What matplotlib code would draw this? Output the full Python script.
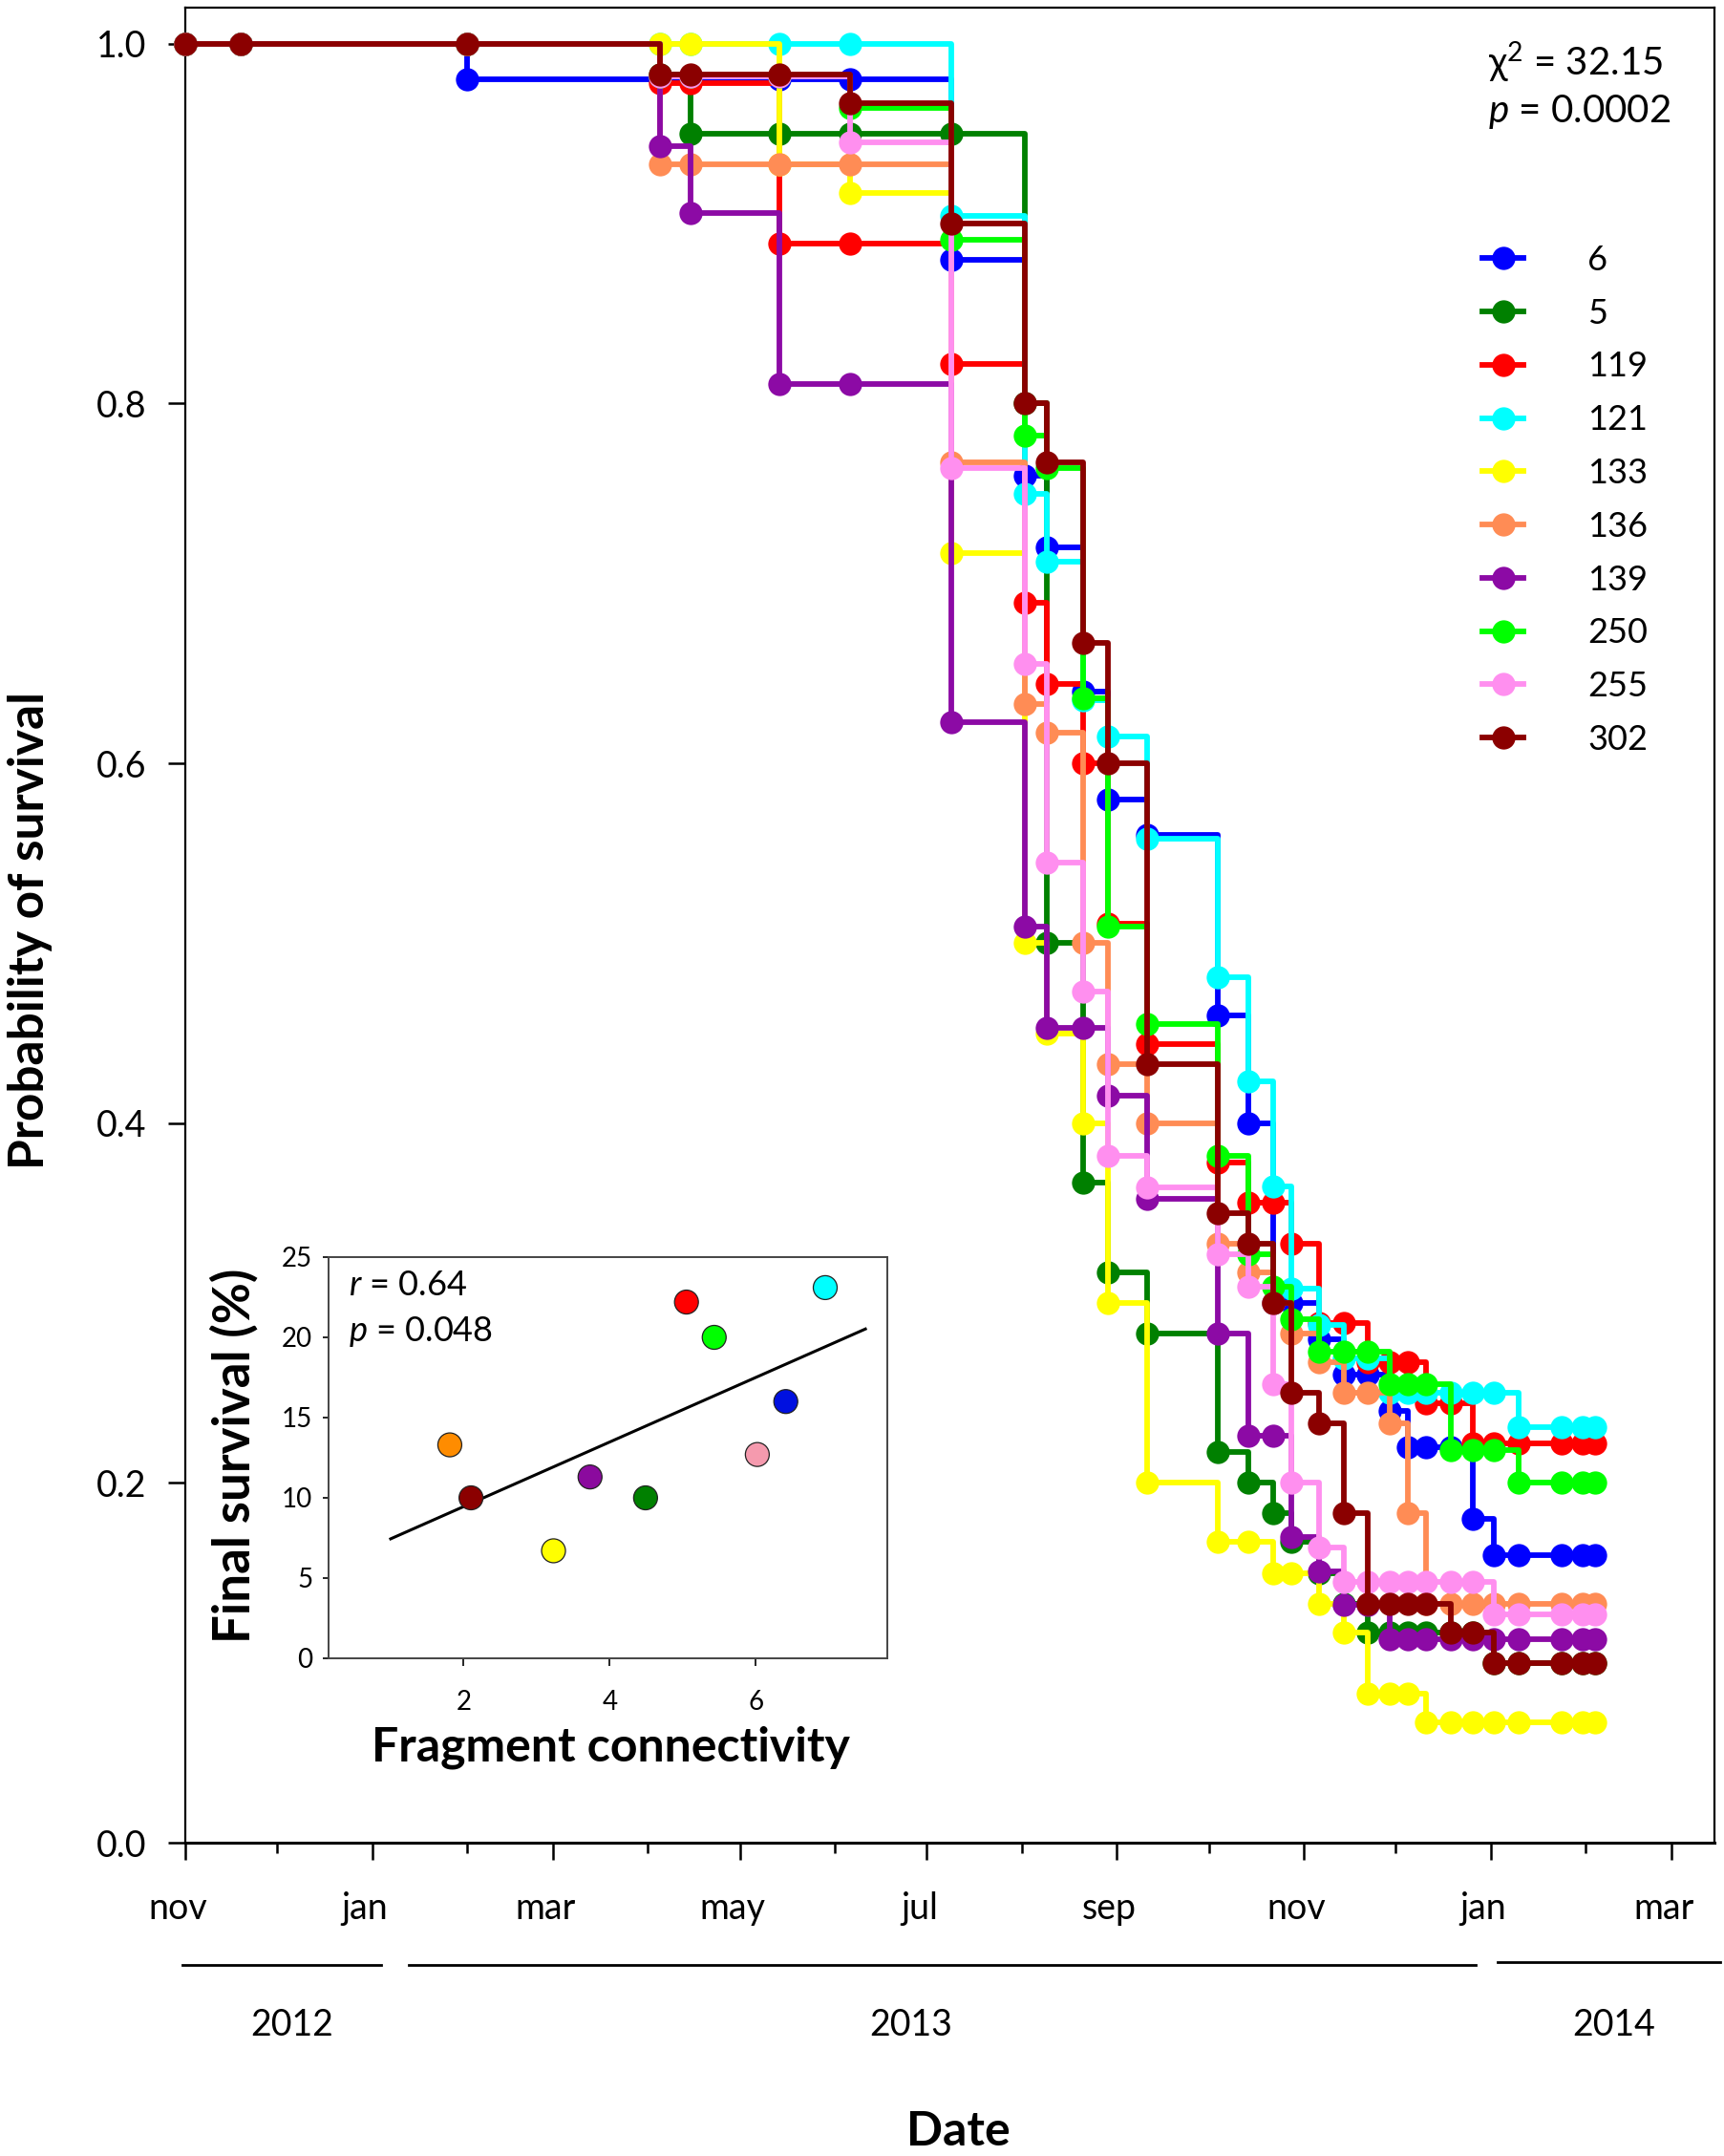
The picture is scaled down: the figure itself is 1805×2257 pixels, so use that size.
import numpy as np
import matplotlib
matplotlib.use('Agg')
import matplotlib.pyplot as plt
from matplotlib.ticker import FormatStrFormatter
from matplotlib.transforms import ScaledTranslation

plt.rcParams['font.family'] = ['Lato', 'DejaVu Sans']
plt.rcParams['mathtext.fontset'] = 'custom'
plt.rcParams['mathtext.rm'] = 'Lato'
plt.rcParams['mathtext.it'] = 'Lato:italic'

# sampling dates (shared by all fragments)
sample_dates = np.array([
    '2012-11-01', '2012-11-19', '2013-02-01', '2013-04-05', '2013-04-15',
    '2013-05-14', '2013-06-06', '2013-07-09', '2013-08-02', '2013-08-09',
    '2013-08-21', '2013-08-29', '2013-09-11', '2013-10-04', '2013-10-14',
    '2013-10-22', '2013-10-28', '2013-11-06', '2013-11-14', '2013-11-22',
    '2013-11-29', '2013-12-05', '2013-12-11', '2013-12-19', '2013-12-26',
    '2014-01-02', '2014-01-10', '2014-01-24', '2014-01-31', '2014-02-04'],
    dtype='datetime64[D]')

fragments = ['6', '5', '119', '121', '133', '136', '139', '250', '255', '302']
colors = ['#0000FF', '#008000', '#FF0000', '#00FFFF', '#FFFF00',
          '#FF8C55', '#8C0AA5', '#00FF00', '#FF8FEF', '#8B0000']

surv_6 = [1, 1, .98, .98, .98, .98, .98, .88, .76, .72, .64, .58, .56, .46, .40,
          .30, .30, .28, .26, .26, .24, .22, .22, .22, .18, .16, .16, .16, .16, .16]
surv_5 = [1, 1, 1, .983, .95, .95, .95, .95, .80, .50, .367, .317, .283, .217, .20,
          .183, .167, .15, .133, .117, .117, .117, .117, .117, .117, .10, .10, .10, .10, .10]
surv_119 = [1, 1, 1, .978, .978, .889, .889, .822, .689, .644, .600, .511, .444, .378, .356,
            .356, .333, .289, .289, .267, .267, .267, .244, .244, .222, .222, .222, .222, .222, .222]
surv_121 = [1, 1, 1, 1, 1, 1, 1, .904, .750, .712, .635, .615, .558, .481, .423,
            .365, .308, .288, .269, .269, .250, .250, .250, .250, .250, .250, .231, .231, .231, .231]
surv_133 = [1, 1, 1, 1, 1, .933, .917, .717, .500, .450, .400, .300, .200, .167, .167,
            .150, .150, .133, .117, .083, .083, .083, .067, .067, .067, .067, .067, .067, .067, .067]
surv_136 = [1, 1, 1, .933, .933, .933, .933, .767, .633, .617, .500, .433, .400, .333, .317,
            .300, .283, .267, .250, .250, .233, .183, .133, .133, .133, .133, .133, .133, .133, .133]
surv_139 = [1, 1, 1, .943, .906, .811, .811, .623, .509, .453, .453, .415, .358, .283, .226,
            .226, .170, .151, .132, .132, .113, .113, .113, .113, .113, .113, .113, .113, .113, .113]
surv_250 = [1, 1, 1, .982, .982, .982, .964, .891, .782, .764, .636, .509, .455, .382, .327,
            .309, .291, .273, .273, .273, .255, .255, .255, .218, .218, .218, .200, .200, .200, .200]
surv_255 = [1, 1, 1, .982, .982, .982, .945, .764, .655, .545, .473, .382, .364, .327, .309,
            .255, .200, .164, .145, .145, .145, .145, .145, .145, .145, .127, .127, .127, .127, .127]
surv_302 = [1, 1, 1, .983, .983, .983, .967, .900, .800, .767, .667, .600, .433, .350, .333,
            .300, .250, .233, .183, .133, .133, .133, .133, .117, .117, .100, .100, .100, .100, .100]
curves = [surv_6, surv_5, surv_119, surv_121, surv_133,
          surv_136, surv_139, surv_250, surv_255, surv_302]

# inset: fragment connectivity vs final survival
conn = [1.81, 2.10, 3.23, 3.73, 4.49, 5.05, 5.43, 6.02, 6.41, 6.95]
final_surv = [13.3, 10.0, 6.7, 11.3, 10.0, 22.2, 20.0, 12.7, 16.0, 23.1]
inset_colors = ['#FF8C00', '#8B0000', '#FFFF00', '#8B0A9E', '#008000',
                '#FF0000', '#00FF00', '#F59AAE', '#0010E0', '#00FFFF']

month_ticks = np.array(['2012-11-01', '2013-01-01', '2013-03-01', '2013-05-01', '2013-07-01',
                        '2013-09-01', '2013-11-01', '2014-01-01', '2014-03-01'], dtype='datetime64[D]')
month_labels = ['nov', 'jan', 'mar', 'may', 'jul', 'sep', 'nov', 'jan', 'mar']
minor_ticks = np.array(['2012-12-01', '2013-02-01', '2013-04-01', '2013-06-01', '2013-08-01',
                        '2013-10-01', '2013-12-01', '2014-02-01'], dtype='datetime64[D]')
years = ['2012', '2013', '2014']

W, H = 1805, 2257
fig = plt.figure(figsize=(W / 100, H / 100), dpi=100)


def fx(px):
    return px / W


def fy(py):
    return 1 - py / H


ax = fig.add_axes([fx(194), fy(1929), fx(1795) - fx(194), fy(8) - fy(1929)])
for lab, col, vals in zip(fragments, colors, curves):
    ax.plot(sample_dates, vals, drawstyle='steps-post', color=col, lw=4.2,
            marker='o', ms=17.5, mew=0, label=lab, clip_on=False, zorder=3)

ax.set_ylim(0, 1.02)
ax.set_xlim(np.datetime64('2012-11-01'), np.datetime64('2014-03-15'))
ax.set_yticks([0, 0.2, 0.4, 0.6, 0.8, 1.0])
ax.yaxis.set_major_formatter(FormatStrFormatter('%.1f'))
ax.set_xticks(month_ticks)
ax.set_xticklabels(month_labels)
ax.set_xticks(minor_ticks, minor=True)
ax.tick_params(axis='both', which='major', direction='out', length=13, width=1.8, labelsize=27)
ax.tick_params(axis='x', which='minor', direction='out', length=8, width=1.8)
ax.tick_params(axis='x', which='major', pad=24)
ax.tick_params(axis='y', which='major', pad=16)
for lbl in ax.get_xticklabels():
    lbl.set_transform(lbl.get_transform() + ScaledTranslation(-0.08, 0, fig.dpi_scale_trans))
for sp in ax.spines.values():
    sp.set_linewidth(1.6)
ax.spines['bottom'].set_linewidth(2.2)

ax.legend(loc='upper left', bbox_to_anchor=(fx(1552), fy(256)), bbox_transform=fig.transFigure,
          frameon=False, fontsize=26, handlelength=1.2, handletextpad=1.85,
          labelspacing=0.63, borderpad=0, borderaxespad=0, numpoints=1)

fig.text(fx(1558), fy(65), 'χ$^2$ = 32.15', fontsize=29, ha='left', va='center')
fig.text(fx(1558), fy(117), '$p$ = 0.0002', fontsize=29, ha='left', va='center')

fig.text(fx(32), fy(974), 'Probability of survival', rotation=90, fontsize=37,
         fontweight='bold', ha='center', va='center')
fig.text(fx(1003), fy(2231), 'Date', fontsize=36, fontweight='bold', ha='center', va='center')

# year bands under the month labels
for (x0, x1, yy) in [(191, 399, 2057), (428, 1545, 2057), (1568, 1801, 2054)]:
    fig.add_artist(plt.Line2D([fx(x0), fx(x1)], [fy(yy), fy(yy)], transform=fig.transFigure,
                              color='black', lw=2))
for yr, xc in zip(years, [306, 954, 1690]):
    fig.text(fx(xc), fy(2120), yr, fontsize=27, ha='center', va='center')

# inset
ax2 = fig.add_axes([fx(344), fy(1736), fx(929) - fx(344), fy(1316) - fy(1736)])
slope, intercept = np.polyfit(conn, final_surv, 1)
fit_x = np.array([1.0, 7.5])
ax2.plot(fit_x, intercept + slope * fit_x, color='black', lw=2.2, zorder=2)
ax2.scatter(conn, final_surv, s=18 ** 2, c=inset_colors, edgecolors='#222222',
            linewidths=0.9, zorder=3)
ax2.set_xlim(0.15, 7.8)
ax2.set_ylim(0, 25)
ax2.set_xticks([2, 4, 6])
ax2.set_yticks([0, 5, 10, 15, 20, 25])
ax2.tick_params(axis='x', direction='out', length=6, width=1.2, labelsize=20, pad=18)
ax2.tick_params(axis='y', direction='out', length=4, width=1.2, labelsize=20, pad=8)
for sp in ax2.spines.values():
    sp.set_linewidth(1.4)
    sp.set_color('#444444')
fig.text(fx(365), fy(1346), '$r$ = 0.64', fontsize=26, ha='left', va='center')
fig.text(fx(365), fy(1394), '$p$ = 0.048', fontsize=26, ha='left', va='center')
fig.text(fx(245), fy(1524), 'Final survival (%)', rotation=90, fontsize=38,
         fontweight='bold', ha='center', va='center')
fig.text(fx(639), fy(1829), 'Fragment connectivity', fontsize=36, fontweight='bold',
         ha='center', va='center')

fig.savefig('out.png', dpi=100)
